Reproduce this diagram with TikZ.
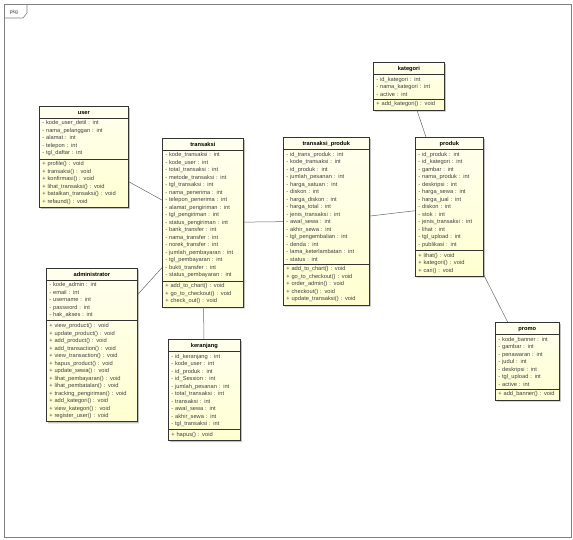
\documentclass[tikz,border=0pt]{standalone}
\usepackage{fontspec}
\setmainfont{Liberation Sans}
\usetikzlibrary{shapes.multipart, shadows, calc}

\definecolor{clstop}{RGB}{255,255,238}
\definecolor{clsbot}{RGB}{255,255,210}
\newcommand{\cname}[1]{{\centering\bfseries\color{black}\rule[-1pt]{0pt}{5.8pt}#1\par}}

\begin{document}
\begin{tikzpicture}[
    x=1pt, y=-1pt,
    cls/.style={rectangle split, rectangle split parts=3, draw=black!80, line width=0.7pt,
      top color=clstop, bottom color=clsbot,
      drop shadow={shadow xshift=1.6pt, shadow yshift=-1.6pt, fill=black!40, opacity=0.6},
      text width=#1, align=left, anchor=north west, inner xsep=3pt, inner ysep=2.5pt,
      font=\fontsize{5.7}{7.5}\selectfont, text=black!75},
    assoc/.style={draw=black!60, line width=0.5pt},
    frame/.style={draw=black!50, line width=0.6pt},
]
\useasboundingbox (0,0) rectangle (573,539);

% package frame
\draw[frame] (4,4) rectangle (571,537);
\draw[frame] (4,18) -- (23,18) -- (27,13) -- (27,4);
\node[font=\fontsize{5}{6}\selectfont, text=black!75] (pkg) at (14,12) {pkg};

\node[cls=83pt] (user) at (39,106) {\cname{user}
  \nodepart{second}- kode\_user\_detil : int\\- nama\_pelanggan : int\\- alamat : int\\- telepon : int\\- tgl\_daftar : int
  \nodepart{third}+ profile() : void\\+ transaksi() : void\\+ konfirmasi() : void\\+ lihat\_transaksi() : void\\+ batalkan\_transaksi() : void\\+ refaund() : void};

\node[cls=85pt] (admin) at (46,268) {\cname{administrator}
  \nodepart{second}- kode\_admin : int\\- email : int\\- username : int\\- password : int\\- hak\_akses : int
  \nodepart{third}+ view\_product() : void\\+ update\_product() : void\\+ add\_product() : void\\+ add\_transaction() : void\\+ view\_transaction() : void\\+ hapus\_product() : void\\+ update\_sewa() : void\\+ lihat\_pembayaran() : void\\+ lihat\_pembatalan() : void\\+ tracking\_pengiriman() : void\\+ add\_kategori() : void\\+ view\_kategori() : void\\+ register\_user() : void};

\node[cls=75pt] (transaksi) at (162,138) {\cname{transaksi}
  \nodepart{second}- kode\_transaksi : int\\- kode\_user : int\\- total\_transaksi : int\\- metode\_transaksi : int\\- tgl\_transaksi : int\\- nama\_penerima : int\\- telepon\_penerima : int\\- alamat\_pengiriman : int\\- tgl\_pengiriman : int\\- status\_pengiriman : int\\- bank\_transfer : int\\- nama\_transfer : int\\- norek\_transfer : int\\- jumlah\_pembayaran : int\\- tgl\_pembayaran : int\\- bukti\_transfer : int\\- status\_pembayaran : int
  \nodepart{third}+ add\_to\_chart() : void\\+ go\_to\_checkout() : void\\+ check\_out() : void};

\node[cls=66pt] (keranjang) at (168,339) {\cname{keranjang}
  \nodepart{second}- id\_keranjang : int\\- kode\_user : int\\- id\_produk : int\\- id\_Session : int\\- jumlah\_pesanan : int\\- total\_transaksi : int\\- transaksi : int\\- awal\_sewa : int\\- akhir\_sewa : int\\- tgl\_transaksi : int
  \nodepart{third}+ hapus() : void};

\node[cls=80pt] (tproduk) at (283,137) {\cname{transaksi\_produk}
  \nodepart{second}- id\_trans\_produk : int\\- kode\_transaksi : int\\- id\_produk : int\\- jumlah\_pesanan : int\\- harga\_satuan : int\\- diskon : int\\- harga\_diskon : int\\- harga\_total : int\\- jenis\_transaksi : int\\- awal\_sewa : int\\- akhir\_sewa : int\\- tgl\_pengembalian : int\\- denda : int\\- lama\_keterlambatan : int\\- status : int
  \nodepart{third}+ add\_to\_chart() : void\\+ go\_to\_checkout() : void\\+ order\_admin() : void\\+ checkout() : void\\+ update\_transaksi() : void};

\node[cls=65pt] (kategori) at (373,62) {\cname{kategori}
  \nodepart{second}- id\_kategori : int\\- nama\_kategori : int\\- active : int
  \nodepart{third}+ add\_kategori() : void};

\node[cls=62pt] (produk) at (415,137) {\cname{produk}
  \nodepart{second}- id\_produk : int\\- id\_kategori : int\\- gambar : int\\- nama\_produk : int\\- deskripsi : int\\- harga\_sewa : int\\- harga\_jual : int\\- diskon : int\\- stok : int\\- jenis\_transaksi : int\\- lihat : int\\- tgl\_upload : int\\- publikasi : int
  \nodepart{third}+ lihat() : void\\+ kategori() : void\\+ cari() : void};

\node[cls=58pt] (promo) at (495,322) {\cname{promo}
  \nodepart{second}- kode\_banner : int\\- gambar : int\\- penawaran : int\\- judul : int\\- deskripsi : int\\- tgl\_upload : int\\- active : int
  \nodepart{third}+ add\_banner() : void};

% associations
\draw[assoc] (user) -- (transaksi);
\draw[assoc] (admin) -- (transaksi);
\draw[assoc] (transaksi) -- (keranjang);
\draw[assoc] (transaksi) -- (tproduk);
\draw[assoc] (tproduk) -- (produk);
\draw[assoc] (kategori) -- (produk);
\draw[assoc] (produk) -- (promo);

\end{tikzpicture}
\end{document}
